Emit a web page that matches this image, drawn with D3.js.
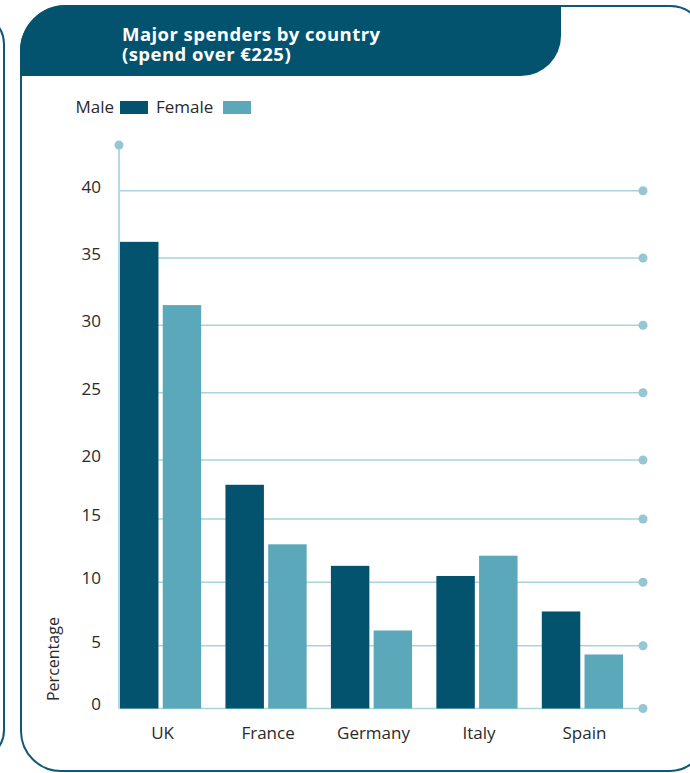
<!DOCTYPE html>
<html>
<head>
<meta charset="utf-8">
<script src="https://cdn.jsdelivr.net/npm/d3@7"></script>
<style>
  html, body { margin: 0; padding: 0; background: #ffffff; }
  svg { display: block; }
  text { font-family: "Open Sans", "DejaVu Sans", sans-serif; }
</style>
</head>
<body>
<svg id="chart" width="690" height="773"></svg>
<script>
// ---- data ----
const countries = ["UK", "France", "Germany", "Italy", "Spain"];
const seriesNames = ["Male", "Female"];
const maleValues = [36.2, 17.9, 11.3, 10.5, 7.7];
const femaleValues = [31.5, 13.0, 6.2, 12.1, 4.3];
const yTicks = [0, 5, 10, 15, 20, 25, 30, 35, 40];
const titleLines = ["Major spenders by country", "(spend over €225)"];
const yAxisTitle = "Percentage";

// ---- styles ----
const DARK = "#03536e";
const LIGHT = "#5aa8ba";
const GRID = "#a9d3de";
const DOT = "#95c6d3";
const INK = "#2a2a2a";
const colors = { Male: DARK, Female: LIGHT };

const svg = d3.select("#chart");

// ---- panel frames ----
// neighbouring panel edge on the far left
svg.append("path")
  .attr("d", "M-60,14 L-26,14 A30,30 0 0 1 4,44 L4,730 A30,30 0 0 1 -26,760 L-60,760")
  .attr("fill", "none").attr("stroke", "#0e5975").attr("stroke-width", 2);

// main panel outline
svg.append("path")
  .attr("d", "M66,6 L670,6 A35,35 0 0 1 705,41 L705,736 A35,35 0 0 1 670,771 L61,771 A40,40 0 0 1 21,731 L21,51 A45,45 0 0 1 66,6 Z")
  .attr("fill", "#ffffff").attr("stroke", "#0e5975").attr("stroke-width", 2);

// title banner
svg.append("path")
  .attr("d", "M20,76 L20,51 A46,46 0 0 1 66,5 L561,5 L561,36 A40,40 0 0 1 521,76 Z")
  .attr("fill", DARK);

const title = svg.append("text")
  .attr("fill", "#ffffff")
  .attr("font-weight", 700)
  .attr("font-size", 18.5)
  .attr("letter-spacing", 0.45);
titleLines.forEach((t, i) => {
  title.append("tspan").attr("x", 122).attr("y", 41 + i * 20).text(t);
});

// ---- legend ----
const legend = svg.append("g").attr("font-size", 17).attr("fill", INK);
legend.append("text").attr("x", 114).attr("y", 113).attr("text-anchor", "end").text(seriesNames[0]);
legend.append("rect").attr("x", 120).attr("y", 101).attr("width", 28).attr("height", 13).attr("fill", colors.Male);
legend.append("text").attr("x", 156).attr("y", 113).text(seriesNames[1]);
legend.append("rect").attr("x", 223).attr("y", 101).attr("width", 28).attr("height", 13).attr("fill", colors.Female);

// ---- scales ----
const plotLeft = 119, plotRight = 643, plotTop = 145;
const y = d3.scaleLinear()
  .domain(yTicks)
  .range([708.5, 645.7, 582.3, 519, 460, 392.7, 325.3, 258, 190.7]);

const x0 = d3.scaleBand()
  .domain(countries)
  .range([120, 623])
  .paddingInner(0.23)
  .paddingOuter(0);

const x1 = d3.scaleBand()
  .domain(seriesNames)
  .range([0, x0.bandwidth()])
  .paddingInner(0.1);

// ---- gridlines ----
const grid = svg.append("g");
grid.selectAll("line")
  .data(yTicks)
  .join("line")
  .attr("x1", plotLeft).attr("x2", plotRight)
  .attr("y1", d => y(d)).attr("y2", d => y(d))
  .attr("stroke", GRID).attr("stroke-width", 1.6);

grid.selectAll("circle")
  .data(yTicks)
  .join("circle")
  .attr("cx", plotRight).attr("cy", d => y(d))
  .attr("r", 4.5).attr("fill", DOT);

// vertical axis line with cap dot
svg.append("line")
  .attr("x1", plotLeft).attr("x2", plotLeft)
  .attr("y1", plotTop).attr("y2", y(0))
  .attr("stroke", "#b3d9e2").attr("stroke-width", 2);
svg.append("circle").attr("cx", plotLeft).attr("cy", plotTop).attr("r", 4.5).attr("fill", DOT);

// ---- bars ----
const rows = countries.map((c, i) => ({ country: c, Male: maleValues[i], Female: femaleValues[i] }));

const groups = svg.append("g")
  .selectAll("g")
  .data(rows)
  .join("g")
  .attr("transform", d => `translate(${x0(d.country)},0)`);

groups.selectAll("rect")
  .data(d => seriesNames.map(s => ({ key: s, value: d[s] })))
  .join("rect")
  .attr("x", d => x1(d.key))
  .attr("width", x1.bandwidth())
  .attr("y", d => y(d.value))
  .attr("height", d => y(0) - y(d.value))
  .attr("fill", d => colors[d.key]);

// ---- axis labels ----
const yAxis = d3.axisLeft(y).tickValues(yTicks).tickSize(0).tickPadding(0).tickFormat(d3.format("d"));
const yAxisG = svg.append("g")
  .attr("transform", "translate(101,-4)")
  .call(yAxis);
yAxisG.select(".domain").remove();
yAxisG.selectAll("text")
  .attr("font-family", "\"Open Sans\", sans-serif")
  .attr("font-size", 17)
  .attr("fill", INK);

const xAxis = d3.axisBottom(x0).tickSize(0).tickPadding(0);
const xAxisG = svg.append("g")
  .attr("transform", "translate(2,727)")
  .call(xAxis);
xAxisG.select(".domain").remove();
xAxisG.selectAll("text")
  .attr("font-family", "\"Open Sans\", sans-serif")
  .attr("font-size", 17)
  .attr("fill", INK);

svg.append("text")
  .attr("transform", "translate(59,701) rotate(-90)")
  .attr("font-size", 16)
  .attr("fill", INK)
  .text(yAxisTitle);
</script>
</body>
</html>
